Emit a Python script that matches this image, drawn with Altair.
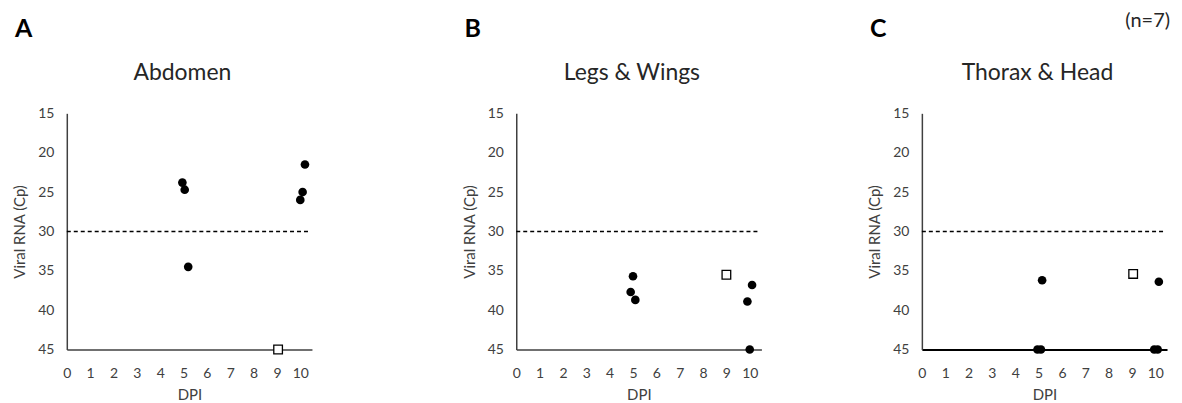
import altair as alt
import pandas as pd

panel_letters = ["A", "B", "C"]
panel_titles = ["Abdomen", "Legs & Wings", "Thorax & Head"]
sample_note = "(n=7)"

# filled circles: DPI and Cp per panel
abd_dpi = [4.95, 5.05, 5.2, 10.2, 10.1, 10.0]
abd_cp = [23.8, 24.7, 34.5, 21.5, 25.0, 26.0]
legs_dpi = [5.0, 4.9, 5.1, 10.1, 9.9, 10.0]
legs_cp = [35.7, 37.7, 38.7, 36.8, 38.9, 45.0]
thor_dpi = [5.15, 4.95, 5.1, 10.15, 9.95, 10.1]
thor_cp = [36.2, 45.0, 45.0, 36.4, 45.0, 45.0]

# open squares
abd_sq_dpi = [9.05]
abd_sq_cp = [45.0]
legs_sq_dpi = [9.0]
legs_sq_cp = [35.5]
thor_sq_dpi = [9.05]
thor_sq_cp = [35.4]

threshold_cp = 30
dpi_ticks = list(range(0, 11))
cp_ticks = [15, 20, 25, 30, 35, 40, 45]
x_max = 10.5
rule_end = 10.45

FONT = "Lato"
AXIS_COLOR = "#404040"

panels = [
    (abd_dpi, abd_cp, abd_sq_dpi, abd_sq_cp),
    (legs_dpi, legs_cp, legs_sq_dpi, legs_sq_cp),
    (thor_dpi, thor_cp, thor_sq_dpi, thor_sq_cp),
]

PLOT_W = 246
PLOT_H = 237


def make_panel(i):
    dpi, cp, sq_dpi, sq_cp = panels[i]
    extra = 44 if i == 0 else 0
    xscale = alt.Scale(domain=[0, x_max], nice=False, zero=False, range=[0, PLOT_W])
    yscale = alt.Scale(domain=[15, 45], nice=False, zero=False, reverse=True)
    last = i == 2
    xaxis = alt.Axis(
        values=dpi_ticks, title="DPI", ticks=False, grid=False,
        domainColor="#000000" if last else AXIS_COLOR,
        domainWidth=2 if last else 1.5,
        labelColor=AXIS_COLOR, labelFontSize=14, labelPadding=17,
        titleFontSize=15, titleFontWeight="normal", titleColor=AXIS_COLOR,
        titlePadding=7, labelFlush=False,
    )
    yaxis = alt.Axis(
        values=cp_ticks, title="Viral RNA (Cp)", ticks=False, grid=False,
        domainColor=AXIS_COLOR, domainWidth=1.5,
        labelColor=AXIS_COLOR, labelFontSize=14, labelPadding=13,
        titleFontSize=15, titleFontWeight="normal", titleColor=AXIS_COLOR,
        titlePadding=10,
    )
    circ_df = pd.DataFrame({"DPI": dpi, "Cp": cp})
    sq_df = pd.DataFrame({"DPI": sq_dpi, "Cp": sq_cp})
    rule_df = pd.DataFrame({"x0": [0], "x1": [rule_end], "Cp": [threshold_cp]})

    rule = alt.Chart(rule_df).mark_rule(
        color="#000000", strokeDash=[4, 3], strokeWidth=1.5
    ).encode(
        x=alt.X("x0:Q", scale=xscale, axis=xaxis),
        x2="x1:Q",
        y=alt.Y("Cp:Q", scale=yscale, axis=yaxis),
    )
    circles = alt.Chart(circ_df).mark_point(
        shape="circle", filled=True, color="#000000", size=75, opacity=1
    ).encode(
        x=alt.X("DPI:Q", scale=xscale, axis=xaxis),
        y=alt.Y("Cp:Q", scale=yscale, axis=yaxis),
    )
    squares = alt.Chart(sq_df).mark_point(
        shape="square", filled=True, fill="#ffffff", stroke="#000000",
        strokeWidth=1.3, size=75, opacity=1
    ).encode(
        x=alt.X("DPI:Q", scale=xscale, axis=xaxis),
        y=alt.Y("Cp:Q", scale=yscale, axis=yaxis),
    )
    letter = alt.Chart(pd.DataFrame({"t": [panel_letters[i]]})).mark_text(
        font=FONT, fontSize=25, fontWeight="bold", color="#000000",
        align="left", baseline="middle"
    ).encode(text="t:N", x=alt.value(-52), y=alt.value(-85))
    title = alt.Chart(pd.DataFrame({"t": [panel_titles[i]]})).mark_text(
        font=FONT, fontSize=23, color="#262626",
        align="center", baseline="middle"
    ).encode(text="t:N", x=alt.value(PLOT_W / 2 - 7), y=alt.value(-40))
    layers = [rule, squares, circles, letter, title]
    if last:
        note = alt.Chart(pd.DataFrame({"t": [sample_note]})).mark_text(
            font=FONT, fontSize=20, color="#262626", align="right", baseline="middle"
        ).encode(text="t:N", x=alt.value(PLOT_W + 3), y=alt.value(-93))
        layers.append(note)
    return alt.layer(*layers).properties(width=PLOT_W + extra, height=PLOT_H)


chart = alt.hconcat(
    make_panel(0), make_panel(1), make_panel(2), spacing=161, bounds="flush"
).properties(
    padding={"left": 4, "top": 2, "right": 4, "bottom": 2}
).configure(font=FONT).configure_view(stroke=None)

chart.save("out.html", embed_options={"renderer": "svg", "actions": False})
